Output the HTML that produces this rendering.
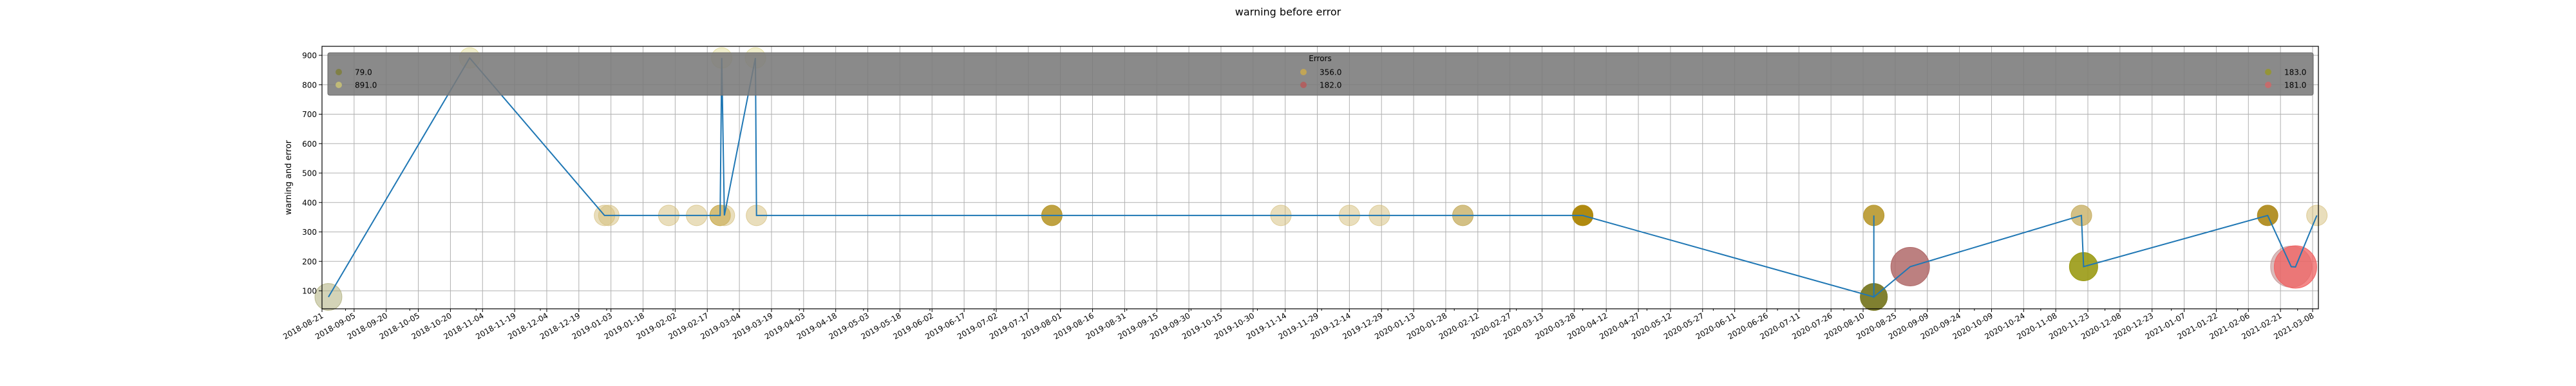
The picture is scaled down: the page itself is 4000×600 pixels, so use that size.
<!DOCTYPE html>
<html><head><meta charset="utf-8">
<style>
html,body{margin:0;padding:0;background:#fff;}
svg{display:block;font-family:"DejaVu Sans","Liberation Sans",sans-serif;}
</style></head>
<body>
<svg id="chart" width="4000" height="600" viewBox="0 0 4000 600" xmlns="http://www.w3.org/2000/svg">
<text x="2000" y="24" text-anchor="middle" font-size="16">warning before error</text>
<text transform="translate(452,276) rotate(-90)" text-anchor="middle" font-size="13">warning and error</text>
<g id="grid"></g>
<g id="points"></g>
<g id="line"></g>
<g id="axes"></g>
<g id="legend"></g>
</svg>
<script>
const dates = ["2018-08-24","2018-10-29","2018-12-31","2019-01-02","2019-01-30","2019-02-12","2019-02-23","2019-02-23T18:00","2019-02-25","2019-03-11T12:00","2019-03-12","2019-07-28","2019-11-12","2019-12-14","2019-12-28","2020-02-05","2020-04-01","2020-08-15","2020-08-15","2020-08-15","2020-09-01","2020-11-20","2020-11-21","2021-02-15","2021-02-26","2021-02-28","2021-03-10"];
const values = [79,891,356,356,356,356,356,891,356,891,356,356,356,356,356,356,356,79,356,79,182,356,182,356,182,181,356];
const radii = [21,16,16,16,16,16,16,16,16,16,16,16,16,16,16,16,16,21,16,21,30,16,22,16,32,33,16];
const colors = ["#a8a870","#d8d070","#d4bd7a","#d4bd7a","#d4bd7a","#d4bd7a","#c4a440","#d8d070","#d4bd7a","#d8d070","#d4bd7a","#b8982e","#d4bd7a","#d4bd7a","#d4bd7a","#c8b066","#b08a10","#7c7c2a","#b8982e","#7c7c2a","#b06a6a","#c8b066","#9a9a14","#b08c20","#c09090","#f06060","#d4bd7a"];
const opac = [0.5,0.35,0.5,0.5,0.5,0.5,0.7,0.35,0.5,0.35,0.5,0.9,0.5,0.5,0.5,0.8,1,0.95,0.9,0.4,0.85,0.8,0.9,0.95,0.6,0.75,0.5];
const yTicks = [100,200,300,400,500,600,700,800,900];
const legendLabels = ["79.0","891.0","356.0","182.0","183.0","181.0"];
const legendColors = ["#7c7c2a","#d8d070","#d8b040","#c05050","#9a9a14","#e06060"];

const NS="http://www.w3.org/2000/svg";
const X0=500,X1=3600,Y0=72,Y1=480;
const dayMs=86400000, t0=Date.parse("2018-08-21T00:00:00Z");
const pxPerDay=3091/930;
function xOf(d){const s=d.length===10?d+"T00:00:00Z":d+":00Z";return X0+(Date.parse(s)-t0)/dayMs*pxPerDay;}
function yOf(v){return 452-(v-100)*0.4575;}
function mk(tag,attrs,parent){const e=document.createElementNS(NS,tag);for(const k in attrs)e.setAttribute(k,attrs[k]);parent.appendChild(e);return e;}

const grid=document.getElementById('grid'),axes=document.getElementById('axes');
// x major ticks every 15 days
const xTickDates=[];
for(let d=0; d<=935; d+=15){xTickDates.push(d);}
xTickDates.forEach(d=>{
  const x=X0+d*pxPerDay; if(x>X1) return;
  const gl=mk('line',{x1:x,x2:x,y1:Y0,y2:Y1,stroke:'#b0b0b0','stroke-width':1},grid);
  
  
  const tk=mk('line',{x1:x,x2:x,y1:Y1,y2:Y1+5,stroke:'#000','stroke-width':1},axes);
  
  
  const dt=new Date(t0+d*dayMs).toISOString().slice(0,10);
  const t=mk('text',{transform:`translate(${x+3},${Y1+13}) rotate(-30)`,'text-anchor':'end','font-size':12},axes);
  t.textContent=dt;
  
  
});
// minor ticks at month starts
for(let y=2018;y<=2021;y++)for(let m=0;m<12;m++){
  const tt=Date.UTC(y,m,1); const x=X0+(tt-t0)/dayMs*pxPerDay;
  if(x<X0||x>X1) continue;
  const mt=mk('line',{x1:x,x2:x,y1:Y1,y2:Y1+3,stroke:'#000','stroke-width':1},axes);
  
  
}
yTicks.forEach(v=>{
  const y=yOf(v);
  const gl=mk('line',{x1:X0,x2:X1,y1:y,y2:y,stroke:'#b0b0b0','stroke-width':1},grid);
  
  
  const tk=mk('line',{x1:X0-5,x2:X0,y1:y,y2:y,stroke:'#000','stroke-width':1},axes);
  
  
  const t=mk('text',{x:X0-8,y:y+4.5,'text-anchor':'end','font-size':12},axes);
  t.textContent=v;
  
  
});
const frame=mk('rect',{x:X0,y:Y0,width:X1-X0,height:Y1-Y0,fill:'none',stroke:'#000','stroke-width':1.2},axes);



// points
const pg=document.getElementById('points');
dates.forEach((d,i)=>{
  const c=mk('circle',{cx:xOf(d),cy:yOf(values[i]),r:radii[i],fill:colors[i],'fill-opacity':opac[i],stroke:colors[i],'stroke-opacity':Math.min(1,opac[i]+0.2),'stroke-width':1},pg);
  
  
});
// line
const lp=dates.map((d,i)=>xOf(d).toFixed(1)+','+yOf(values[i]).toFixed(1)).join(' ');
const pl=mk('polyline',{points:lp,fill:'none',stroke:'#1f77b4','stroke-width':2},document.getElementById('line'));



// legend
const lg=document.getElementById('legend');
const box=mk('rect',{x:509,y:82,width:3083,height:66,rx:3,fill:'#7a7a7a','fill-opacity':0.88,stroke:'#6a6a6a'},lg);


const lt=mk('text',{x:2050,y:95,'text-anchor':'middle','font-size':12},lg);
lt.textContent='Errors';


const colX=[526,2024,3522];
legendLabels.forEach((lab,i)=>{
  const col=Math.floor(i/2),row=i%2;
  const mx=colX[col],my=112+row*20;
  const m=mk('circle',{cx:mx,cy:my,r:5,fill:legendColors[i],'fill-opacity':0.7},lg);
  
  
  const t=mk('text',{x:mx+25,y:my+4.5,'font-size':12},lg);
  t.textContent=lab;
  
  
});
</script>
</body></html>
